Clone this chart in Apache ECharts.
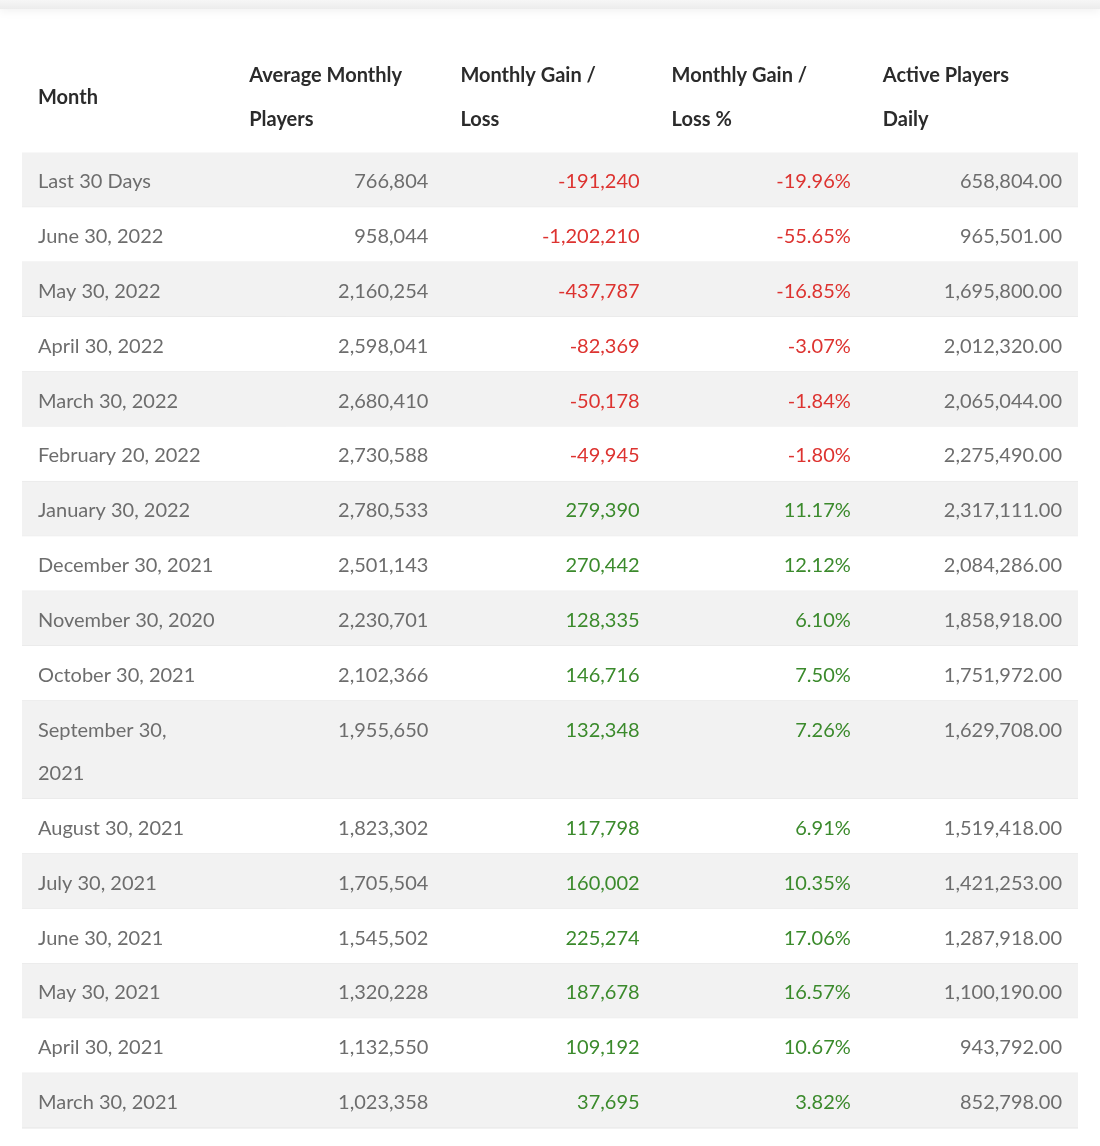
<!DOCTYPE html>
<html>
<head>
<meta charset="utf-8">
<script src="https://cdn.jsdelivr.net/npm/echarts@6/dist/echarts.min.js"></script>
<style>
  html, body { margin: 0; padding: 0; background: #fff; }
  #chart { width: 1100px; height: 1146px; }
</style>
</head>
<body>
<div id="chart"></div>
<script>
// Table data
const headers = ['Month', 'Average Monthly\nPlayers', 'Monthly Gain /\nLoss', 'Monthly Gain /\nLoss %', 'Active Players\nDaily'];
const months = [
    'Last 30 Days', 'June 30, 2022', 'May 30, 2022', 'April 30, 2022', 'March 30, 2022',
    'February 20, 2022', 'January 30, 2022', 'December 30, 2021', 'November 30, 2020',
    'October 30, 2021', 'September 30,\n2021', 'August 30, 2021', 'July 30, 2021',
    'June 30, 2021', 'May 30, 2021', 'April 30, 2021', 'March 30, 2021'
];
const avgPlayers = [766804, 958044, 2160254, 2598041, 2680410, 2730588, 2780533, 2501143, 2230701,
    2102366, 1955650, 1823302, 1705504, 1545502, 1320228, 1132550, 1023358];
const gainLoss = [-191240, -1202210, -437787, -82369, -50178, -49945, 279390, 270442, 128335,
    146716, 132348, 117798, 160002, 225274, 187678, 109192, 37695];
const gainLossPct = [-19.96, -55.65, -16.85, -3.07, -1.84, -1.80, 11.17, 12.12, 6.10,
    7.50, 7.26, 6.91, 10.35, 17.06, 16.57, 10.67, 3.82];
const activeDaily = [658804, 965501, 1695800, 2012320, 2065044, 2275490, 2317111, 2084286, 1858918,
    1751972, 1629708, 1519418, 1421253, 1287918, 1100190, 943792, 852798];

const FONT = 'Lato';
const TEXT = '#6d6d6d';
const HEAD = '#2b2b2b';
const RED = '#dd3330';
const GREEN = '#3b8a2c';
const EXTRA_LINE = 0.79;   // extra row units per wrapped line
const HEADER_UNITS = 2.05;

// row start positions in row units
const rowStart = [];
let acc = 0;
months.forEach(m => {
    rowStart.push(acc);
    acc += 1 + (m.split('\n').length - 1) * EXTRA_LINE;
});
const totalUnits = acc;

const fmtInt = v => v.toLocaleString('en-US');
const fmtPct = v => v.toFixed(2) + '%';
const fmtDec = v => v.toLocaleString('en-US', { minimumFractionDigits: 2, maximumFractionDigits: 2 });
const signColor = v => v < 0 ? RED : GREEN;

const chart = echarts.init(document.getElementById('chart'));

function cellText(x, y, text, align, color) {
    return {
        type: 'text',
        style: {
            x: x, y: y, text: text,
            align: align, verticalAlign: 'top',
            fill: color,
            font: '20px ' + FONT,
            lineHeight: 43
        },
        z2: 5
    };
}

function renderRow(params, api) {
    const i = api.value(0);
    const top = rowStart[i];
    const bottom = i + 1 < rowStart.length ? rowStart[i + 1] : totalUnits;
    const p0 = api.coord([0, top]);
    const p1 = api.coord([5, bottom]);
    const unitPx = api.size([0, 1])[1];
    const colW = api.size([1, 0])[0];
    const ty = p0[1] + unitPx / 2 - 19.5;
    const children = [];
    children.push({
        type: 'rect',
        shape: { x: p0[0], y: p0[1], width: p1[0] - p0[0], height: p1[1] - p0[1] },
        style: { fill: i % 2 === 0 ? '#f2f2f2' : '#ffffff' }
    });
    children.push({
        type: 'line',
        shape: { x1: p0[0], y1: p1[1], x2: p1[0], y2: p1[1] },
        style: { stroke: '#e6e6e6', lineWidth: 1 }
    });
    const pad = 16;
    children.push(cellText(p0[0] + pad, ty, months[i], 'left', TEXT));
    children.push(cellText(p0[0] + colW * 2 - pad, ty, fmtInt(avgPlayers[i]), 'right', TEXT));
    children.push(cellText(p0[0] + colW * 3 - pad, ty, fmtInt(gainLoss[i]), 'right', signColor(gainLoss[i])));
    children.push(cellText(p0[0] + colW * 4 - pad, ty, fmtPct(gainLossPct[i]), 'right', signColor(gainLossPct[i])));
    children.push(cellText(p0[0] + colW * 5 - pad, ty, fmtDec(activeDaily[i]), 'right', TEXT));
    return { type: 'group', children: children };
}

function renderHeader(params, api) {
    const c = api.value(0);
    const p = api.coord([c, -HEADER_UNITS / 2]);
    return {
        type: 'text',
        style: {
            x: p[0] + 16, y: p[1] + 1, text: headers[c],
            align: 'left', verticalAlign: 'middle',
            fill: HEAD, font: 'bold 20px ' + FONT, lineHeight: 44
        }
    };
}

chart.setOption({
    backgroundColor: '#ffffff',
    animation: false,
    grid: { left: 22, right: 22, top: 40, bottom: 18 },
    xAxis: { type: 'value', min: 0, max: 5, show: false },
    yAxis: { type: 'value', min: -HEADER_UNITS, max: totalUnits, inverse: true, show: false },
    graphic: [{
        type: 'rect',
        left: 0, top: 0,
        shape: { width: 1100, height: 9 },
        style: {
            fill: new echarts.graphic.LinearGradient(0, 0, 0, 1, [
                { offset: 0, color: '#f6f6f6' },
                { offset: 1, color: '#ececec' }
            ]),
            shadowBlur: 8, shadowColor: 'rgba(0,0,0,0.06)', shadowOffsetY: 2
        }
    }],
    series: [{
        type: 'custom',
        renderItem: renderRow,
        data: months.map((m, i) => [i]),
        clip: false,
        silent: true
    }, {
        type: 'custom',
        renderItem: renderHeader,
        data: headers.map((h, i) => [i]),
        clip: false,
        silent: true
    }]
});
</script>
</body>
</html>
